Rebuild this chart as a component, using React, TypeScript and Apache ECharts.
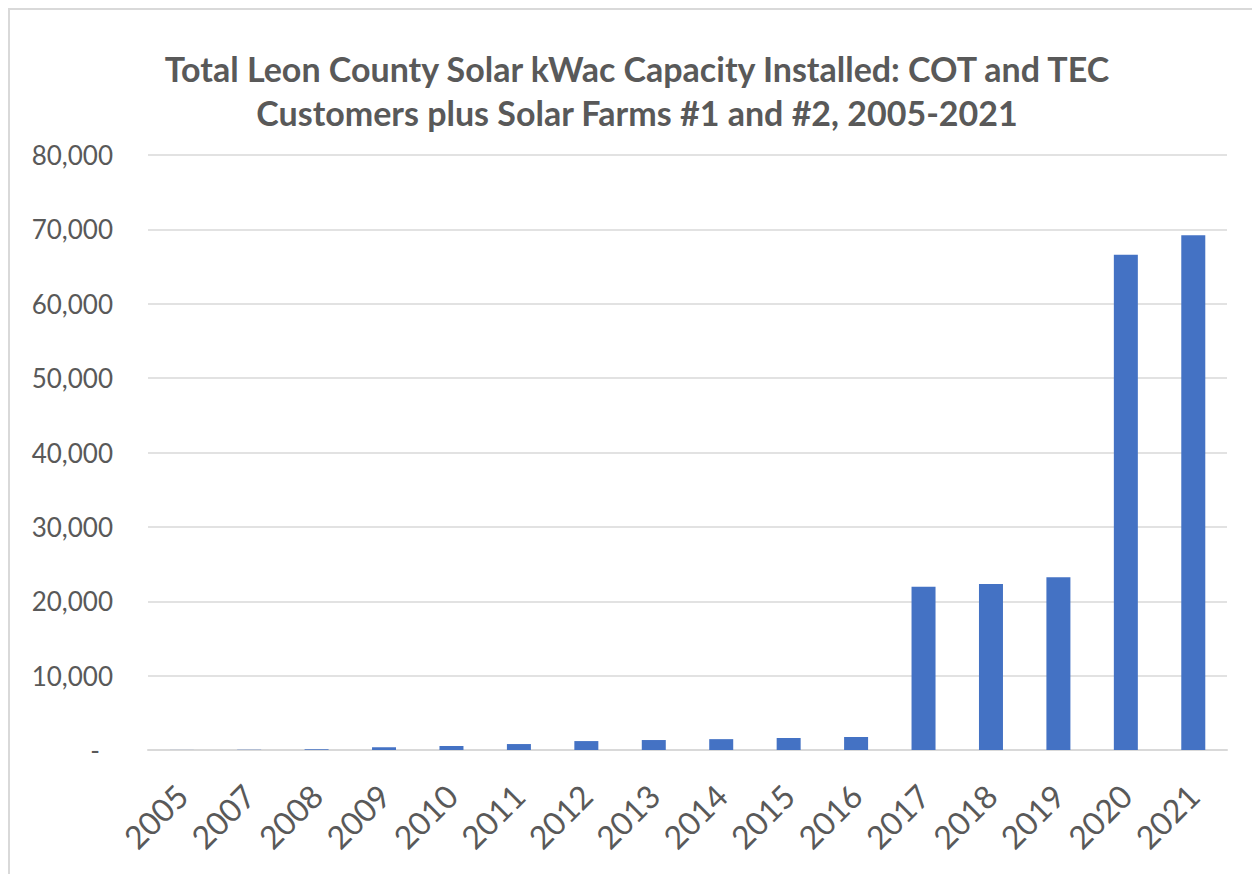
import React, { useEffect, useRef } from "react";
import * as echarts from "echarts";

const TITLE_LINES = [
  "Total Leon County Solar kWac Capacity Installed: COT and TEC",
  "Customers plus Solar Farms #1 and #2, 2005-2021",
];
const years = ["2005", "2007", "2008", "2009", "2010", "2011", "2012", "2013", "2014", "2015", "2016", "2017", "2018", "2019", "2020", "2021"];
const capacityKwac = [10, 30, 100, 370, 540, 800, 1200, 1340, 1460, 1610, 1750, 21960, 22320, 23220, 66600, 69200];
const yMin = 0;
const yMax = 80000;
const yInterval = 10000;

const FONT = "Lato, 'Open Sans', sans-serif";
const TEXT = "#595959";
const GRID = "#d9d9d9";

export default function App() {
  const ref = useRef<HTMLDivElement>(null);
  useEffect(() => {
    if (!ref.current) return;
    const chart = echarts.init(ref.current, null, { renderer: "svg" });
    chart.setOption({
      animation: false,
      backgroundColor: "#ffffff",
      title: {
        text: TITLE_LINES.join("\n"),
        left: 632,
        top: 41,
        textAlign: "center",
        textStyle: {
          fontFamily: FONT,
          fontWeight: "bold",
          fontSize: 34,
          lineHeight: 44,
          color: TEXT,
        },
      },
      grid: { left: 148, right: 25, top: 155, bottom: 124, containLabel: false },
      xAxis: {
        type: "category",
        data: years,
        axisLine: { show: true, lineStyle: { color: GRID, width: 2 } },
        axisTick: { show: false },
        axisLabel: {
          rotate: 45,
          interval: 0,
          margin: 40,
          fontFamily: FONT,
          fontSize: 32,
          color: TEXT,
        },
      },
      yAxis: {
        type: "value",
        min: yMin,
        max: yMax,
        interval: yInterval,
        axisLine: { show: false },
        axisTick: { show: false },
        splitLine: { lineStyle: { color: GRID, width: 1.5 } },
        axisLabel: {
          margin: 35,
          fontFamily: FONT,
          fontSize: 26,
          color: TEXT,
          formatter: (v: number) => (v === 0 ? "{d|-}" : v.toLocaleString("en-US")),
          rich: {
            d: { fontFamily: FONT, fontSize: 26, color: TEXT, padding: [0, 13, 0, 0] },
          },
        },
      },
      series: [
        {
          type: "bar",
          data: capacityKwac,
          barWidth: 24,
          itemStyle: { color: "#4472c4" },
        },
      ],
    });
    return () => chart.dispose();
  }, []);
  return (
    <div style={{ position: "absolute", left: 0, top: 0, width: 1252, height: 874, overflow: "hidden", background: "#fff" }}>
      <div ref={ref} style={{ position: "absolute", left: 0, top: 0, width: 1252, height: 874 }} />
      <div
        style={{
          position: "absolute",
          left: 8,
          top: 8,
          width: 1300,
          height: 900,
          borderLeft: "2px solid #d9d9d9",
          borderTop: "2px solid #d9d9d9",
          pointerEvents: "none",
        }}
      />
    </div>
  );
}
